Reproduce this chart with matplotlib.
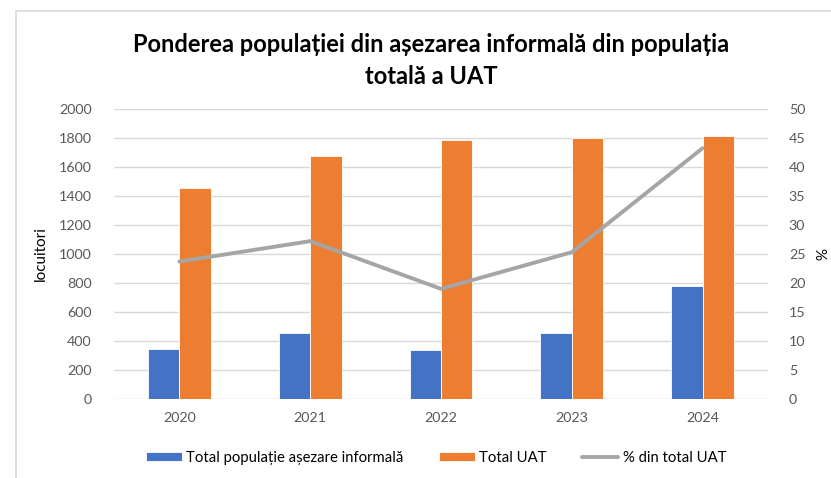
import matplotlib

matplotlib.use("Agg")
import matplotlib.pyplot as plt
from matplotlib.patches import Rectangle
import numpy as np

years = ["2020", "2021", "2022", "2023", "2024"]
pop_informala = [344, 454, 339, 454, 782]
total_uat = [1454, 1672, 1785, 1796, 1810]
procent = [23.7, 27.2, 19.0, 25.3, 43.2]

BLUE = "#4472C4"
ORANGE = "#ED7D31"
GREY = "#A5A5A5"
TICK = "#595959"

plt.rcParams["font.family"] = ["Lato", "DejaVu Sans"]

W, H = 831, 478
fig = plt.figure(figsize=(W / 100, H / 100), dpi=100)

# light chart frame (runs off the right / bottom edge like the screenshot)
fig.patches.append(Rectangle((16 / W, -0.1), 1.0, 1 - 11 / H + 0.1,
                             transform=fig.transFigure, fill=False,
                             edgecolor="#D9D9D9", lw=1.2))

ax = fig.add_axes([114 / W, 1 - 399.3 / H, 654 / W, (399.3 - 108.6) / H])
x = np.arange(len(years))
bw = 0.24
ax.bar(x - bw / 2, pop_informala, bw, color=BLUE, edgecolor="white", lw=0.6,
       label="Total populație așezare informală", zorder=2)
ax.bar(x + bw / 2, total_uat, bw, color=ORANGE, edgecolor="white", lw=0.6,
       label="Total UAT", zorder=2)
ax.set_xlim(-0.5, len(years) - 0.5)
ax.set_ylim(0, 2000)
ax.set_yticks(range(0, 2001, 200))
ax.set_xticks(x, years)
ax.grid(axis="y", color="#D9D9D9", lw=1, zorder=0)
ax.set_axisbelow(True)
for s in ax.spines.values():
    s.set_visible(False)
ax.tick_params(length=0, labelsize=10.3, labelcolor=TICK)
ax.tick_params(axis="y", pad=16)
ax.tick_params(axis="x", pad=9)
ax.set_ylabel("locuitori", fontsize=11, labelpad=8)

ax2 = ax.twinx()
ax2.plot(x, procent, color=GREY, lw=2.8, solid_capstyle="round",
         label="% din total UAT", zorder=3)
ax2.set_ylim(0, 50)
ax2.set_yticks(range(0, 51, 5))
for s in ax2.spines.values():
    s.set_visible(False)
ax2.tick_params(length=0, labelsize=10.3, labelcolor=TICK, pad=15)
ax2.set_ylabel("%", fontsize=11, rotation=270, labelpad=14)

fig.text(431 / W, 1 - 45 / H, "Ponderea populației din așezarea informală din populația",
         ha="center", va="center", fontsize=17, fontweight="bold")
fig.text(431 / W, 1 - 76 / H, "totală a UAT",
         ha="center", va="center", fontsize=17, fontweight="bold")

h1, l1 = ax.get_legend_handles_labels()
h2, l2 = ax2.get_legend_handles_labels()
fig.legend(h1 + h2, l1 + l2, loc="center", bbox_to_anchor=(436 / W, 1 - 458 / H),
           ncol=3, frameon=False, fontsize=10.7, handlelength=2.4,
           handleheight=0.55, columnspacing=2.4, handletextpad=0.3)

fig.savefig("out.png", dpi=100)
